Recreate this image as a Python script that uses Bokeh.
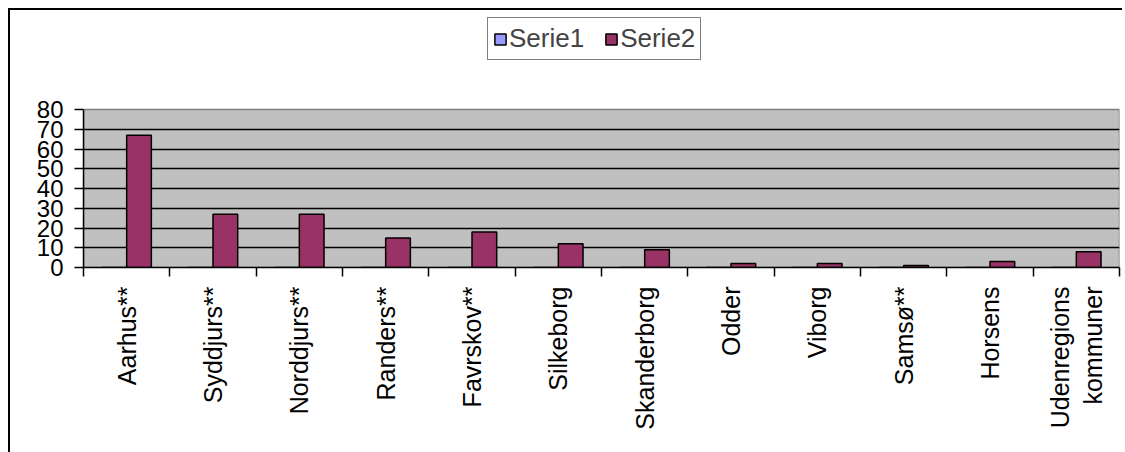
import math
from bokeh.plotting import figure
from bokeh.models import FixedTicker, Legend, LegendItem, ColumnDataSource, Range1d
from bokeh.transform import dodge
from bokeh.core.properties import value
from bokeh.embed import file_html
from bokeh.resources import INLINE

categories = ["Aarhus**", "Syddjurs**", "Norddjurs**", "Randers**", "Favrskov**",
              "Silkeborg", "Skanderborg", "Odder", "Viborg", "Samsø**", "Horsens",
              "Udenregions\nkommuner"]
serie1 = [0, 0, 0, 0, 0, 0, 0, 0, 0, 0, 0, 0]
serie2 = [67, 27, 27, 15, 18, 12, 9, 2, 2, 1, 3, 8]
y_ticks = [0, 10, 20, 30, 40, 50, 60, 70, 80]
series_names = ["Serie1", "Serie2"]
series_colors = ["#9999FF", "#993366"]

idx = list(range(len(categories)))
src = ColumnDataSource(dict(x=idx, s1=serie1, s2=serie2))

FONT = "Liberation Sans"

# plot area (0..80) is 158 px tall; frame is extended upwards to hold the legend
AREA_H = 158
FRAME_H = 255
y_top = y_ticks[-1] * FRAME_H / AREA_H
x_lo, x_hi = -0.5, len(categories) - 0.5

p = figure(frame_width=1036, frame_height=FRAME_H,
           x_range=Range1d(x_lo, x_hi),
           y_range=Range1d(y_ticks[0], y_top),
           output_backend="svg", toolbar_location=None,
           min_border_left=73, min_border_top=2, min_border_right=3, min_border_bottom=185)
p.styles = {"margin-left": "8px", "margin-top": "8px",
            "border-left": "2px solid black", "border-top": "2px solid black"}

p.background_fill_color = "white"
p.border_fill_color = "white"
p.outline_line_color = None

# gray plot area
p.quad(left=[x_lo], right=[x_hi], bottom=[y_ticks[0]], top=[y_ticks[-1]],
       fill_color="#C0C0C0", line_color="#808080", line_width=1.5)
# horizontal grid lines
p.hspan(y=y_ticks[1:-1], line_color="black", line_width=1.5)

bw = 0.286
r1 = p.vbar(x=dodge("x", -0.143), top="s1", width=bw, source=src,
            fill_color=series_colors[0], line_color="black", line_width=1.5)
r2 = p.vbar(x=dodge("x", 0.143), top="s2", width=bw, source=src,
            fill_color=series_colors[1], line_color="black", line_width=1.5)

# x axis
p.xaxis.ticker = FixedTicker(ticks=idx, minor_ticks=[i - 0.5 for i in range(len(categories) + 1)])
p.xaxis.major_label_overrides = {i: c for i, c in enumerate(categories)}
p.xaxis.major_tick_out = 0
p.xaxis.major_tick_in = 0
p.xaxis.minor_tick_out = 9
p.xaxis.minor_tick_in = 0
p.xaxis.minor_tick_line_color = "black"
p.xaxis.minor_tick_line_width = 1.5
p.xaxis.axis_line_color = "black"
p.xaxis.axis_line_width = 1.5
p.xaxis.major_label_orientation = math.pi / 2
p.xaxis.major_label_standoff = 10
p.xaxis.major_label_text_font = FONT
p.xaxis.major_label_text_font_size = "25px"
p.xaxis.major_label_text_color = "black"

# y axis
p.yaxis.ticker = FixedTicker(ticks=y_ticks)
p.yaxis.bounds = (y_ticks[0], y_ticks[-1])
p.yaxis.minor_tick_line_color = None
p.yaxis.major_tick_out = 9
p.yaxis.major_tick_in = 0
p.yaxis.major_tick_line_color = "black"
p.yaxis.major_tick_line_width = 1.5
p.yaxis.axis_line_color = "black"
p.yaxis.axis_line_width = 1.5
p.yaxis.major_label_standoff = 11
p.yaxis.major_label_text_font = FONT
p.yaxis.major_label_text_font_size = "24px"
p.yaxis.major_label_text_color = "black"

p.xgrid.visible = False
p.ygrid.visible = False

legend = Legend(items=[LegendItem(label=value(series_names[0]), renderers=[r1]),
                       LegendItem(label=value(series_names[1]), renderers=[r2])],
                location=(404, 207), orientation="horizontal")
legend.label_text_font = FONT
legend.label_text_font_size = "26px"
legend.glyph_width = 14
legend.glyph_height = 14
legend.label_standoff = 2
legend.spacing = 20
legend.padding = 5
legend.margin = 0
legend.border_line_color = "black"
legend.border_line_width = 1.5
legend.background_fill_color = "white"
legend.background_fill_alpha = 1
p.add_layout(legend)

open("out.html", "w").write(file_html(p, INLINE))
